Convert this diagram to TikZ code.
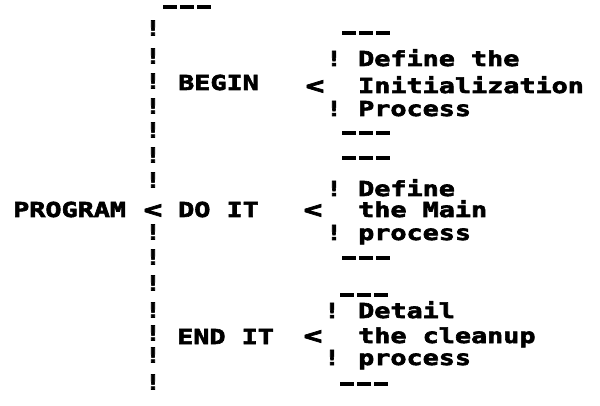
\documentclass[tikz,border=0pt]{standalone}
\usepackage{fontspec}
\newfontfamily\artfont[FakeStretch=1.3,FakeBold=3]{DejaVu Sans Mono Bold}
\begin{document}
\begin{tikzpicture}[x=1pt,y=-1pt,
  txt/.style={font=\artfont\fontsize{20.6}{22}\selectfont, inner sep=0pt, anchor=base west},
  bang/.style={font=\artfont\fontsize{20.6}{22}\selectfont, inner sep=0pt, anchor=base},
  lt/.style={font=\artfont\fontsize{24}{26}\selectfont, inner sep=0pt, anchor=base},
  bar/.style={line width=3.8pt, dash pattern=on 14pt off 3pt}]
\useasboundingbox (0,0) rectangle (600,406);
% top bar
\draw[bar] (163,7) -- (211,7);
% left vertical column
\foreach \yy [count=\i] in {28,56,81,106,130,155,180,232,257,283,310,333,355,382}
  \node[bang] (lc\i) at (153,\yy+7.5) {!};
% left texts
\node[txt] (program) at (13,217) {PROGRAM};
\node[lt] (ltp) at (153,218) {<};
\node[txt] (begin) at (178,90) {BEGIN};
\node[txt] (doit) at (178,217) {DO IT};
\node[txt] (endit) at (177,344) {END IT};
% block 1
\draw[bar] (342,33) -- (390,33);
\node[bang] (b1a) at (334,66) {!};
\node[txt] (b1l1) at (358,66) {Define the};
\node[lt] (b1lt) at (315,94) {<};
\node[txt] (b1l2) at (358,93) {Initialization};
\node[bang] (b1b) at (334,116) {!};
\node[txt] (b1l3) at (358,116) {Process};
\draw[bar] (342,133) -- (390,133);
% block 2
\draw[bar] (342,158) -- (390,158);
\node[bang] (b2a) at (334,196) {!};
\node[txt] (b2l1) at (358,196) {Define};
\node[lt] (b2lt) at (313,218) {<};
\node[txt] (b2l2) at (358,217) {the Main};
\node[bang] (b2b) at (334,240) {!};
\node[txt] (b2l3) at (358,240) {process};
\draw[bar] (342,258) -- (390,258);
% block 3
\draw[bar] (340,295) -- (388,295);
\node[bang] (b3a) at (332,318) {!};
\node[txt] (b3l1) at (358,318) {Detail};
\node[lt] (b3lt) at (313,344) {<};
\node[txt] (b3l2) at (358,343) {the cleanup};
\node[bang] (b3b) at (332,365) {!};
\node[txt] (b3l3) at (358,365) {process};
\draw[bar] (340,384) -- (388,384);
\end{tikzpicture}
\end{document}
